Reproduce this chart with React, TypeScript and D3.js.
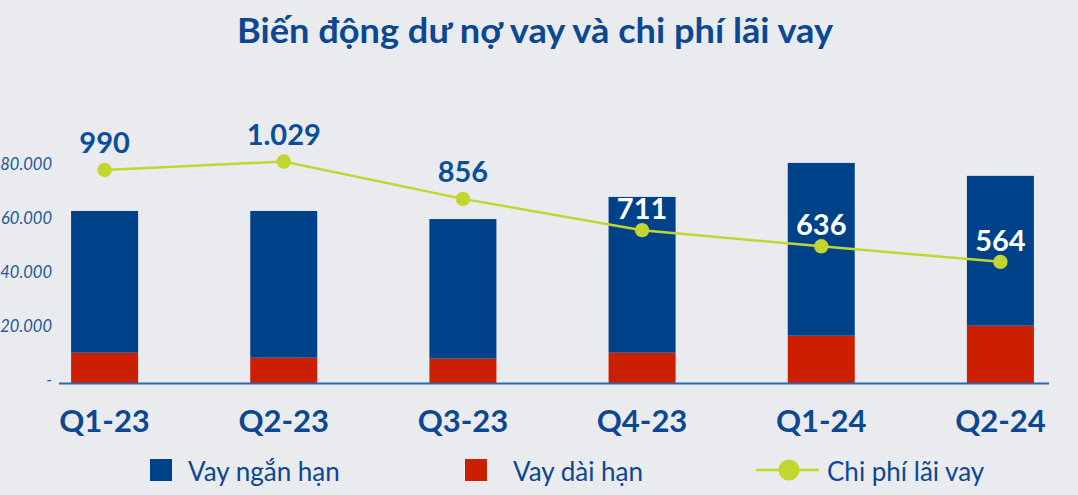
import * as d3 from "d3";

const categories = ["Q1-23", "Q2-23", "Q3-23", "Q4-23", "Q1-24", "Q2-24"];
const longTerm = [11400, 9550, 9200, 11400, 17700, 21400];
const shortTerm = [52500, 54350, 51700, 57700, 64000, 55500];
const interest = [990, 1029, 856, 711, 636, 564];
const yTicks = [0, 20000, 40000, 60000, 80000];

const W = 1078;
const H = 495;
const BLUE = "#00428a";
const RED = "#cc1f00";
const LIME = "#c2d62f";
const TEXT = "#0b4793";
const BG = "#e9ebee";
const FONT = "Lato, 'Open Sans', sans-serif";

const vn = d3.formatLocale({ thousands: ".", grouping: [3], decimal: ",", currency: ["", ""] });
const fmt = vn.format(",d");

export default function App() {
  const x = d3
    .scaleBand<string>()
    .domain(categories)
    .range([15, 1090])
    .paddingInner(0.626)
    .paddingOuter(0.313);
  const y = d3.scaleLinear().domain([0, 90000]).range([383.5, 140.5]);
  const yLine = d3.scaleLinear().domain([0, 1000]).range([383.5, 167.8]);

  const cx = (c: string) => (x(c) ?? 0) + x.bandwidth() / 2;

  const line = d3
    .line<number>()
    .x((_, i) => cx(categories[i]))
    .y((d) => yLine(d));

  return (
    <svg width={W} height={H} style={{ position: "absolute", left: 0, top: 0, background: BG }}>
      <rect width={W} height={H} fill={BG} />

      {/* title */}
      <text
        x={535}
        y={43}
        textAnchor="middle"
        fontFamily={FONT}
        fontWeight={700}
        fontSize={34}
        textLength={596}
        lengthAdjust="spacingAndGlyphs"
        fill={TEXT}
      >
        Biến động dư nợ vay và chi phí lãi vay
      </text>

      {/* y ticks */}
      {yTicks.map((t) => (
        <text
          key={t}
          x={52}
          y={y(t) - 2}
          textAnchor="end"
          dominantBaseline="middle"
          fontFamily={FONT}
          fontStyle="italic"
          fontSize={16.5}
          fill="#24589a"
        >
          {t === 0 ? "-" : fmt(t)}
        </text>
      ))}

      {/* bars */}
      {categories.map((c, i) => (
        <g key={c}>
          <rect x={x(c)} y={y(longTerm[i])} width={x.bandwidth()} height={y(0) - y(longTerm[i])} fill={RED} />
          <rect
            x={x(c)}
            y={y(longTerm[i] + shortTerm[i])}
            width={x.bandwidth()}
            height={y(longTerm[i]) - y(longTerm[i] + shortTerm[i])}
            fill={BLUE}
          />
        </g>
      ))}

      {/* axis line */}
      <line x1={59} x2={1049} y1={y(0)} y2={y(0)} stroke="#2e6aa8" strokeWidth={2} />

      {/* x labels */}
      {categories.map((c) => (
        <text key={c} x={cx(c)} y={431.5} textAnchor="middle" fontFamily={FONT} fontWeight={700} fontSize={31} fill={TEXT}>
          {c}
        </text>
      ))}

      {/* interest line */}
      <path d={line(interest) ?? ""} fill="none" stroke={LIME} strokeWidth={2.5} />
      {interest.map((v, i) => {
        const c = categories[i];
        const inside = yLine(v) > y(longTerm[i] + shortTerm[i]);
        return (
          <g key={c}>
            <circle cx={cx(c)} cy={yLine(v)} r={7.2} fill={LIME} />
            <text
              x={cx(c)}
              y={yLine(v) - (inside ? 11 : 17)}
              textAnchor="middle"
              fontFamily={FONT}
              fontWeight={700}
              fontSize={29}
              fill={inside ? "#ffffff" : "#0b4f9a"}
            >
              {fmt(v)}
            </text>
          </g>
        );
      })}

      {/* legend */}
      <rect x={150} y={459} width={22} height={22} fill={BLUE} />
      <text x={188} y={481} fontFamily={FONT} fontSize={26} fill={TEXT}>
        Vay ngắn hạn
      </text>
      <rect x={465} y={459} width={22} height={22} fill={RED} />
      <text x={513} y={481} fontFamily={FONT} fontSize={26} fill={TEXT}>
        Vay dài hạn
      </text>
      <line x1={756} x2={819} y1={470} y2={470} stroke={LIME} strokeWidth={2.5} />
      <circle cx={789} cy={470} r={10.5} fill={LIME} />
      <text x={827} y={481} fontFamily={FONT} fontSize={26} fill={TEXT}>
        Chi phí lãi vay
      </text>
    </svg>
  );
}
